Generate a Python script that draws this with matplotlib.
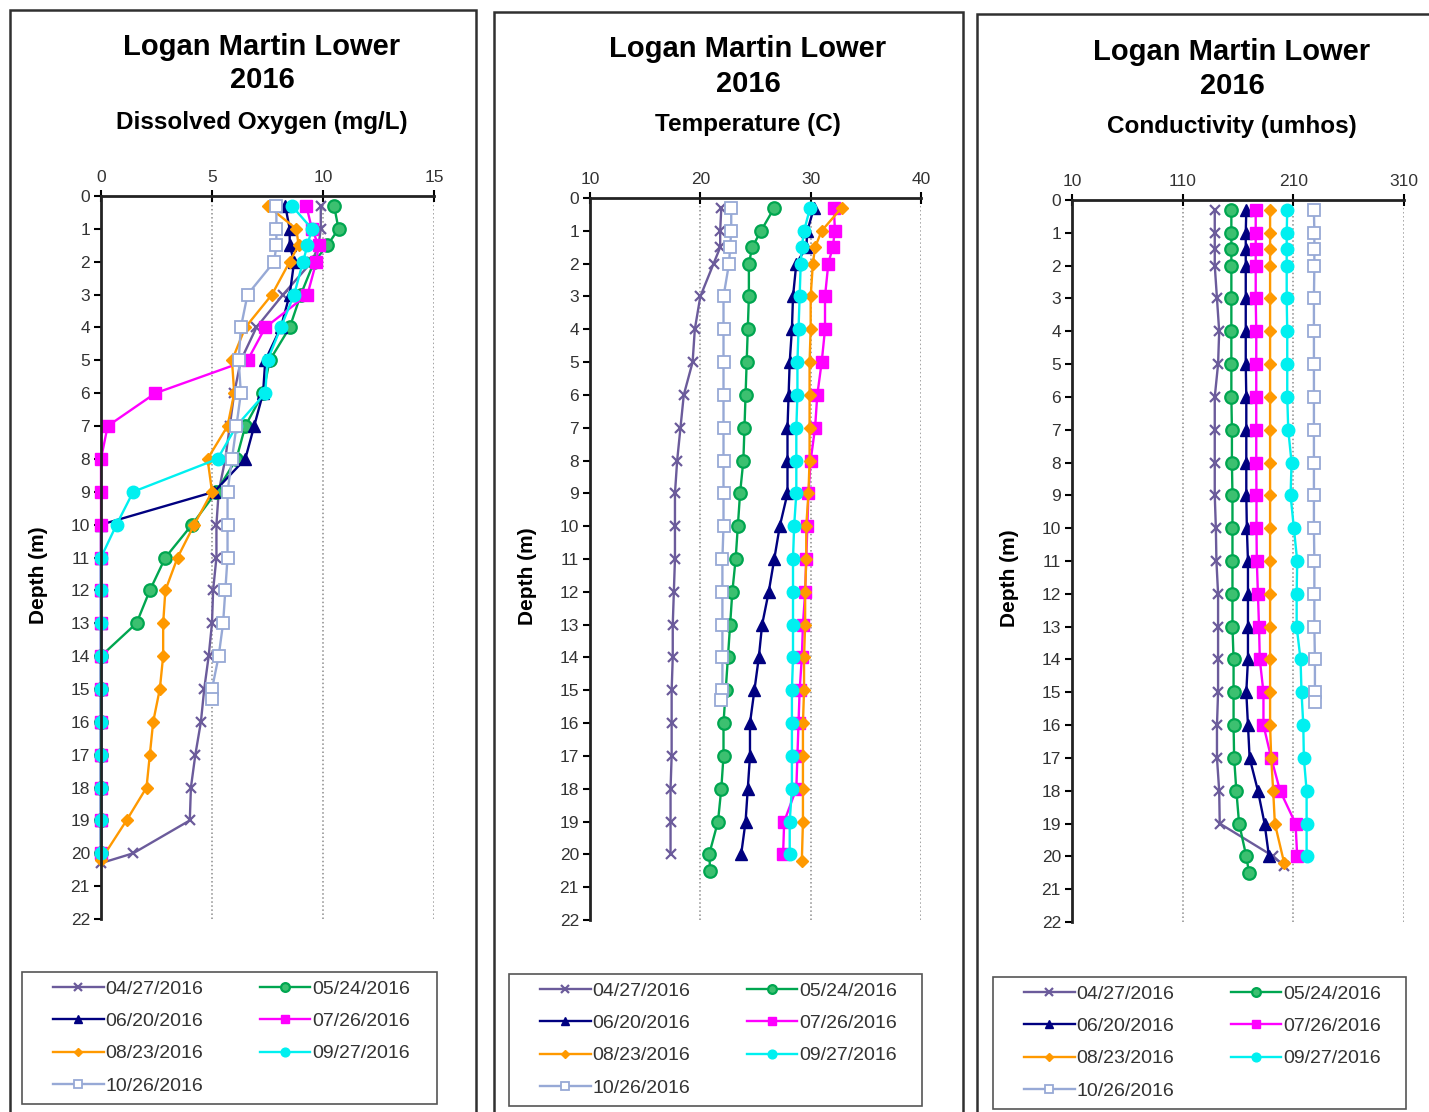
import matplotlib
matplotlib.use("Agg")
import matplotlib.pyplot as plt
from matplotlib.patches import Rectangle

plt.rcParams['font.family'] = ['Liberation Sans', 'DejaVu Sans']

dates = ["04/27/2016", "05/24/2016", "06/20/2016", "07/26/2016",
         "08/23/2016", "09/27/2016", "10/26/2016"]

# depths (m) of the profile points
d_std = [0.3, 1, 1.5, 2, 3, 4, 5, 6, 7, 8, 9, 10, 11, 12, 13, 14, 15, 16, 17, 18, 19, 20]
d_0427 = [0.3, 1, 1.5, 2, 3, 4, 5, 6, 7, 8, 9, 10, 11, 12, 13, 14, 15, 16, 17, 18, 19, 20, 20.3]
d_0524 = [0.3, 1, 1.5, 2, 3, 4, 5, 6, 7, 8, 9, 10, 11, 12, 13, 14, 15, 16, 17, 18, 19, 20, 20.5]
d_0823 = [0.3, 1, 1.5, 2, 3, 4, 5, 6, 7, 8, 9, 10, 11, 12, 13, 14, 15, 16, 17, 18, 19, 20.2]
d_1026 = [0.3, 1, 1.5, 2, 3, 4, 5, 6, 7, 8, 9, 10, 11, 12, 13, 14, 15, 15.3]

# dissolved oxygen (mg/L)
do_0427 = [9.9, 9.9, 9.8, 9.5, 8.2, 7.0, 6.3, 6.0, 5.8, 5.6, 5.3, 5.2, 5.2, 5.05, 5.0, 4.85,
           4.65, 4.5, 4.25, 4.05, 4.0, 1.45, 0.0]
do_0524 = [10.5, 10.7, 10.2, 9.6, 9.0, 8.5, 7.6, 7.3, 6.5, 6.1, 5.2, 4.1, 2.9, 2.2, 1.6, 0,
           0, 0, 0, 0, 0, 0]
do_0620 = [8.3, 8.5, 8.5, 8.7, 8.5, 8.1, 7.4, 7.3, 6.9, 6.5, 5.1, 0, 0, 0, 0, 0, 0, 0, 0, 0, 0, 0]
do_0726 = [9.25, 9.5, 9.8, 9.7, 9.3, 7.4, 6.6, 2.45, 0.3, 0, 0, 0, 0, 0, 0, 0, 0, 0, 0, 0, 0, 0]
do_0823 = [7.5, 8.8, 8.9, 8.5, 7.7, 6.5, 5.9, 6.0, 5.7, 4.8, 5.0, 4.2, 3.45, 2.9, 2.8, 2.8,
           2.65, 2.35, 2.2, 2.05, 1.15, 0.0]
do_0927 = [8.6, 9.5, 9.3, 9.1, 8.7, 8.1, 7.5, 7.4, 6.1, 5.25, 1.45, 0.7, 0, 0, 0, 0, 0, 0, 0, 0, 0, 0]
do_1026 = [7.9, 7.9, 7.9, 7.8, 6.6, 6.3, 6.2, 6.3, 6.1, 5.9, 5.7, 5.7, 5.7, 5.6, 5.5, 5.3, 5.0, 5.0]

# temperature (C)
t_0427 = [21.9, 21.8, 21.8, 21.2, 20.0, 19.5, 19.3, 18.5, 18.2, 17.9, 17.7, 17.7, 17.7, 17.6,
          17.5, 17.5, 17.4, 17.4, 17.4, 17.3, 17.3, 17.3]
t_0524 = [26.7, 25.5, 24.7, 24.4, 24.4, 24.3, 24.2, 24.1, 24.0, 23.9, 23.6, 23.4, 23.2, 22.9,
          22.7, 22.5, 22.3, 22.1, 22.1, 21.9, 21.6, 20.8, 20.9]
t_0620 = [30.3, 29.7, 29.6, 28.7, 28.4, 28.3, 28.1, 28.0, 27.9, 27.9, 27.9, 27.2, 26.7, 26.2,
          25.6, 25.3, 24.9, 24.5, 24.5, 24.3, 24.1, 23.7]
t_0726 = [32.1, 32.2, 32.0, 31.6, 31.3, 31.3, 31.0, 30.6, 30.4, 30.0, 29.8, 29.7, 29.6, 29.5,
          29.3, 29.2, 29.0, 28.9, 28.8, 28.7, 27.6, 27.5]
t_0823 = [32.8, 31.0, 30.4, 30.2, 30.0, 30.0, 29.9, 29.9, 29.9, 29.9, 29.8, 29.6, 29.6, 29.5,
          29.5, 29.4, 29.4, 29.3, 29.3, 29.3, 29.3, 29.2]
t_0927 = [29.95, 29.4, 29.2, 29.1, 29.0, 28.9, 28.8, 28.8, 28.7, 28.7, 28.7, 28.5, 28.4, 28.4,
          28.4, 28.4, 28.3, 28.3, 28.3, 28.3, 28.1, 28.1]
t_1026 = [22.8, 22.8, 22.7, 22.6, 22.1, 22.1, 22.1, 22.1, 22.1, 22.1, 22.1, 22.1, 22.0, 22.0,
          22.0, 22.0, 22.0, 21.9]

# conductivity (umhos)
c_0427 = [139, 139, 139, 139, 141, 143, 142, 139, 139, 139, 139, 140, 140.5, 142, 142, 142,
          142, 141, 141, 143, 143.5, 192, 202]
c_0524 = [154, 154, 154, 154, 154, 154, 154, 154, 154.5, 154.5, 155, 155, 155, 155, 155, 156,
          156, 156, 156.5, 158.5, 161, 167.5, 170]
c_0620 = [167.5, 167, 167, 167, 167, 167, 167, 167.5, 167.5, 167.5, 167.5, 168, 169, 169, 169,
          169, 167.5, 169, 170.5, 178, 184, 188]
c_0726 = [176, 176, 176, 176, 176, 176.5, 176.5, 176.5, 176.5, 176.5, 176.7, 176.7, 177, 178,
          179, 179.7, 183, 183, 190, 198, 212, 213.5]
c_0823 = [189, 189, 189, 189, 189, 189, 189, 189, 189, 189, 189, 189, 189, 189, 189, 189, 189,
          189, 190, 191.8, 193.3, 201.7]
c_0927 = [204.5, 204, 204, 204, 204, 204.5, 204.5, 204.5, 205.4, 208.4, 207.5, 210.5, 213.5,
          213, 213, 216.5, 217.4, 219, 219.5, 222, 222, 222]
c_1026 = [228.6, 229, 229, 229, 228.6, 228.6, 228.6, 228.6, 228.6, 228.6, 228.6, 228.6, 229,
          229, 229, 229.5, 229.5, 229.5]

depth_ticks = list(range(0, 23))

styles = [
    dict(color='#6B5B9B', marker='x', ms=7.5, mew=1.6),
    dict(color='#00A650', marker='o', ms=9, mfc='#3CC070', mec='#00A650', mew=1.6),
    dict(color='#000080', marker='^', ms=8.5),
    dict(color='#FF00FF', marker='s', ms=8.5),
    dict(color='#FF9900', marker='D', ms=6.5),
    dict(color='#00F0F0', marker='o', ms=9),
    dict(color='#97A9D6', marker='s', ms=8.5, mfc='white', mec='#97A9D6', mew=1.3),
]

panels = [
    dict(sub="Dissolved Oxygen (mg/L)", xlim=(0, 15), xticks=[0, 5, 10, 15],
         series=[(d_0427, do_0427), (d_std, do_0524), (d_std, do_0620), (d_std, do_0726),
                 (d_0823, do_0823), (d_std, do_0927), (d_1026, do_1026)],
         ax=[101, 196, 434, 919], box=[10, 10, 476], cx=262, ty=[47, 80, 123],
         leg=[22, 972, 437, 1104]),
    dict(sub="Temperature (C)", xlim=(10, 40), xticks=[10, 20, 30, 40],
         series=[(d_std, t_0427), (d_0524, t_0524), (d_std, t_0620), (d_std, t_0726),
                 (d_0823, t_0823), (d_std, t_0927), (d_1026, t_1026)],
         ax=[590, 198, 921, 920], box=[494, 12, 963], cx=748, ty=[49, 84, 125],
         leg=[509, 974, 922, 1106]),
    dict(sub="Conductivity (umhos)", xlim=(10, 310), xticks=[10, 110, 210, 310],
         series=[(d_0427, c_0427), (d_0524, c_0524), (d_std, c_0620), (d_std, c_0726),
                 (d_0823, c_0823), (d_std, c_0927), (d_1026, c_1026)],
         ax=[1072, 200, 1404, 922], box=[977, 14, 1445], cx=1232, ty=[52, 86, 127],
         leg=[993, 977, 1406, 1109]),
]

W, H = 1429, 1112
fig = plt.figure(figsize=(W / 100, H / 100), dpi=100)

for p in panels:
    bx0, by0, bx1 = p['box']
    fig.patches.append(Rectangle((bx0 / W, -0.02), (bx1 - bx0) / W, 1 - by0 / H + 0.02,
                                 transform=fig.transFigure, fill=False,
                                 edgecolor='#303030', lw=1.8))
    fig.text(p['cx'] / W, 1 - p['ty'][0] / H, "Logan Martin Lower", ha='center', va='center',
             fontsize=21, fontweight='bold')
    fig.text(p['cx'] / W, 1 - p['ty'][1] / H, "2016", ha='center', va='center',
             fontsize=21, fontweight='bold')
    fig.text(p['cx'] / W, 1 - p['ty'][2] / H, p['sub'], ha='center', va='center',
             fontsize=17.5, fontweight='bold')

    x0, y0, x1, y1 = p['ax']
    ax = fig.add_axes([x0 / W, 1 - y1 / H, (x1 - x0) / W, (y1 - y0) / H])
    handles = []
    for (dep, val), st, lab in zip(p['series'], styles, dates):
        h, = ax.plot(val, dep, lw=1.7, clip_on=False, label=lab, **st)
        handles.append(h)
    ax.set_xlim(*p['xlim'])
    ax.set_ylim(22, 0)
    ax.set_xticks(p['xticks'])
    ax.set_yticks(depth_ticks)
    ax.xaxis.tick_top()
    for x in p['xticks'][1:]:
        ax.axvline(x, color='#8C8C8C', lw=1.1, ls=':', zorder=0)
    for s in ['right', 'bottom']:
        ax.spines[s].set_visible(False)
    for s in ['top', 'left']:
        ax.spines[s].set_linewidth(2)
        ax.spines[s].set_color('#222222')
    ax.tick_params(axis='x', direction='inout', length=8, width=1.5, labelsize=12.5,
                   labelcolor='#333333', pad=4)
    ax.tick_params(axis='y', direction='out', length=5, width=1.5, labelsize=12.5,
                   labelcolor='#333333', pad=3)
    ax.set_ylabel("Depth (m)", fontsize=15, fontweight='bold')
    ax.yaxis.set_label_coords(-0.16, 0.476)

    # legend: frame drawn separately, entries filled row by row
    lx0, ly0, lx1, ly1 = p['leg']
    fig.patches.append(Rectangle((lx0 / W, 1 - ly1 / H), (lx1 - lx0) / W, (ly1 - ly0) / H,
                                 transform=fig.transFigure, fill=False,
                                 edgecolor='#555555', lw=1.2))
    order = [0, 2, 4, 6, 1, 3, 5]
    leg = ax.legend(handles=[handles[i] for i in order], loc='upper left', ncol=2,
                    bbox_to_anchor=((lx0 + 31) / W, 1 - (ly0 + 8) / H),
                    bbox_transform=fig.transFigure, fontsize=14, frameon=False,
                    handlelength=2.6, handletextpad=0.1, labelspacing=0.76,
                    columnspacing=2.9, borderaxespad=0, borderpad=0, markerscale=0.7)
    for t in leg.get_texts():
        t.set_color('#333333')

fig.savefig("out.png", dpi=100)
